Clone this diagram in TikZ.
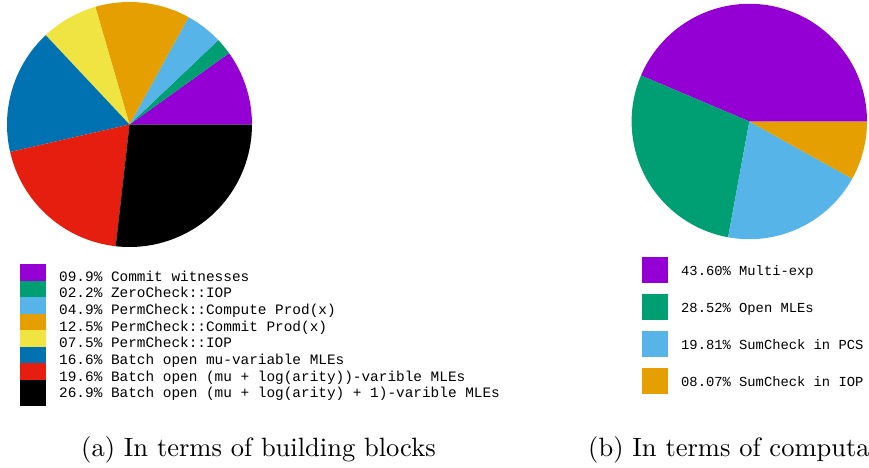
\documentclass[tikz,border=0pt]{standalone}
\usepackage{fontspec}
\newfontfamily\keyfont{Liberation Mono}
\newfontfamily\capfont{lmroman10-regular}[Extension=.otf]
\definecolor{cviolet}{HTML}{9400D3}
\definecolor{cgreen}{HTML}{009E73}
\definecolor{csky}{HTML}{56B4E9}
\definecolor{corange}{HTML}{E69F00}
\definecolor{cyellow}{HTML}{F0E442}
\definecolor{cblue}{HTML}{0072B2}
\definecolor{cred}{HTML}{E51E10}
\def\pieslice[#1](#2)(#3:#4:#5){\fill[#1] (#2) -- ++(#3:#5) arc (#3:#4:#5) -- cycle;}
\tikzset{
  keya/.style={anchor=base west, inner sep=0pt, font=\keyfont\fontsize{14.4}{16}\selectfont},
  keyb/.style={anchor=base west, inner sep=0pt, font=\keyfont\fontsize{13.8}{16}\selectfont},
  subcap/.style={anchor=base west, inner sep=0pt, font=\capfont\fontsize{26.5}{30}\selectfont}
}
\begin{document}
\begin{tikzpicture}[x=1pt, y=1pt]
			\useasboundingbox (0, 0) rectangle (869, 467);
			
			%%%%% (a) building blocks %%%%%
			
			\pieslice[cviolet](129.5, 342.5)(0:35.64:122.5);
			\pieslice[cgreen](129.5, 342.5)(35.64:43.56:122.5);
			\pieslice[csky](129.5, 342.5)(43.56:61.2:122.5);
			\pieslice[corange](129.5, 342.5)(61.2:106.2:122.5);
			\pieslice[cyellow](129.5, 342.5)(106.2:133.2:122.5);
			\pieslice[cblue](129.5, 342.5)(133.2:192.96:122.5);
			\pieslice[cred](129.5, 342.5)(192.96:263.52:122.5);
			\pieslice[black](129.5, 342.5)(263.52:360:122.5);
			
			\fill[cviolet] (19.5, 203) rectangle (45.8, 177);
			\node[keya] (ka1) at (59, 185.8) {09.9\% Commit witnesses};
			\fill[cgreen] (19.5, 186.43) rectangle (45.8, 160.43);
			\node[keya] (ka2) at (59, 169.15) {02.2\% ZeroCheck::IOP};
			\fill[csky] (19.5, 169.86) rectangle (45.8, 143.86);
			\node[keya] (ka3) at (59, 152.5) {04.9\% PermCheck::Compute Prod(x)};
			\fill[corange] (19.5, 153.29) rectangle (45.8, 127.29);
			\node[keya] (ka4) at (59, 135.85) {12.5\% PermCheck::Commit Prod(x)};
			\fill[cyellow] (19.5, 136.72) rectangle (45.8, 110.72);
			\node[keya] (ka5) at (59, 119.2) {07.5\% PermCheck::IOP};
			\fill[cblue] (19.5, 120.15) rectangle (45.8, 94.15);
			\node[keya] (ka6) at (59, 102.55) {16.6\% Batch open mu-variable MLEs};
			\fill[cred] (19.5, 103.58) rectangle (45.8, 77.58);
			\node[keya] (ka7) at (59, 85.9) {19.6\% Batch open (mu + log(arity))-varible MLEs};
			\fill[black] (19.5, 87.01) rectangle (45.8, 61.01);
			\node[keya] (ka8) at (59, 69.25) {26.9\% Batch open (mu + log(arity) + 1)-varible MLEs};
			
			\node[subcap] (capa) at (81, 10.5) {(a) In terms of building blocks};
			
			%%%%% (b) computation %%%%%
			
			\pieslice[cviolet](749.3, 345.5)(0:156.96:117.7);
			\pieslice[cgreen](749.3, 345.5)(156.96:259.63:117.7);
			\pieslice[csky](749.3, 345.5)(259.63:330.95:117.7);
			\pieslice[corange](749.3, 345.5)(330.95:360:117.7);
			
			\fill[cviolet] (642.3, 210.3) rectangle (668.3, 184.3);
			\node[keyb] (kb1) at (681, 191.9) {43.60\% Multi-exp};
			\fill[cgreen] (642.3, 173.1) rectangle (668.3, 147.1);
			\node[keyb] (kb2) at (681, 154.7) {28.52\% Open MLEs};
			\fill[csky] (642.3, 135.9) rectangle (668.3, 109.9);
			\node[keyb] (kb3) at (681, 117.5) {19.81\% SumCheck in PCS};
			\fill[corange] (642.3, 98.7) rectangle (668.3, 72.7);
			\node[keyb] (kb4) at (681, 80.3) {08.07\% SumCheck in IOP};
			
			\node[subcap] (capb) at (588, 10.5) {(b) In terms of computa};
			
		\end{tikzpicture}
\end{document}
